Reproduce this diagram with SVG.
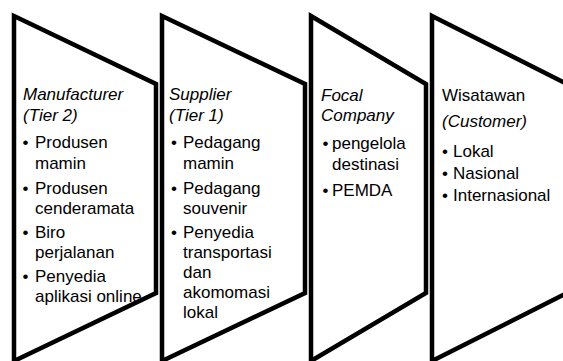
<svg xmlns="http://www.w3.org/2000/svg" width="563" height="361" viewBox="0 0 563 361">
<style>
.shape{fill:#fff;stroke:#000;stroke-width:4.5;stroke-linejoin:miter}
text{font-family:"Liberation Sans",Arial,sans-serif;font-size:17px;fill:#000}
.it{font-style:italic}
</style>
<rect width="563" height="361" fill="#fff"/>
<g id="connectors"></g>
<g id="tier2">
<polygon class="shape" points="14,16 156,84 156,293 14,361"/>
<text class="it" x="23" y="100">Manufacturer</text>
<text class="it" x="23" y="121">(Tier 2)</text>
<text x="22.5" y="148">•</text><text x="35" y="148">Produsen</text>
<text x="35" y="169">mamin</text>
<text x="22.5" y="194">•</text><text x="35" y="194">Produsen</text>
<text x="35" y="214">cenderamata</text>
<text x="22.5" y="238">•</text><text x="35" y="238">Biro</text>
<text x="35" y="258">perjalanan</text>
<text x="22.5" y="282">•</text><text x="35" y="282">Penyedia</text>
<text x="35" y="302">aplikasi online</text>
</g>
<g id="tier1">
<polygon class="shape" points="162,16 305,84 305,293 162,361"/>
<text class="it" x="169" y="100">Supplier</text>
<text class="it" x="169" y="121">(Tier 1)</text>
<text x="171" y="148">•</text><text x="183" y="148">Pedagang</text>
<text x="183" y="169">mamin</text>
<text x="171" y="194">•</text><text x="183" y="194">Pedagang</text>
<text x="183" y="214">souvenir</text>
<text x="171" y="238">•</text><text x="183" y="238">Penyedia</text>
<text x="183" y="258">transportasi</text>
<text x="183" y="278">dan</text>
<text x="183" y="298">akomomasi</text>
<text x="183" y="318">lokal</text>
</g>
<g id="focal">
<polygon class="shape" points="311,16 426,84 426,293 311,361"/>
<text class="it" x="321" y="101">Focal</text>
<text class="it" x="321" y="121">Company</text>
<text x="322.5" y="149">•</text><text x="332" y="149">pengelola</text>
<text x="332" y="170">destinasi</text>
<text x="322.5" y="196">•</text><text x="332" y="196">PEMDA</text>
</g>
<g id="customer">
<polygon class="shape" points="432,16 567,84 567,293 432,361"/>
<text x="442" y="101">Wisatawan</text>
<text class="it" x="442" y="127">(Customer)</text>
<text x="442" y="157">•</text><text x="453" y="157">Lokal</text>
<text x="442" y="179">•</text><text x="453" y="179">Nasional</text>
<text x="442" y="201">•</text><text x="453" y="201">Internasional</text>
</g>
</svg>
